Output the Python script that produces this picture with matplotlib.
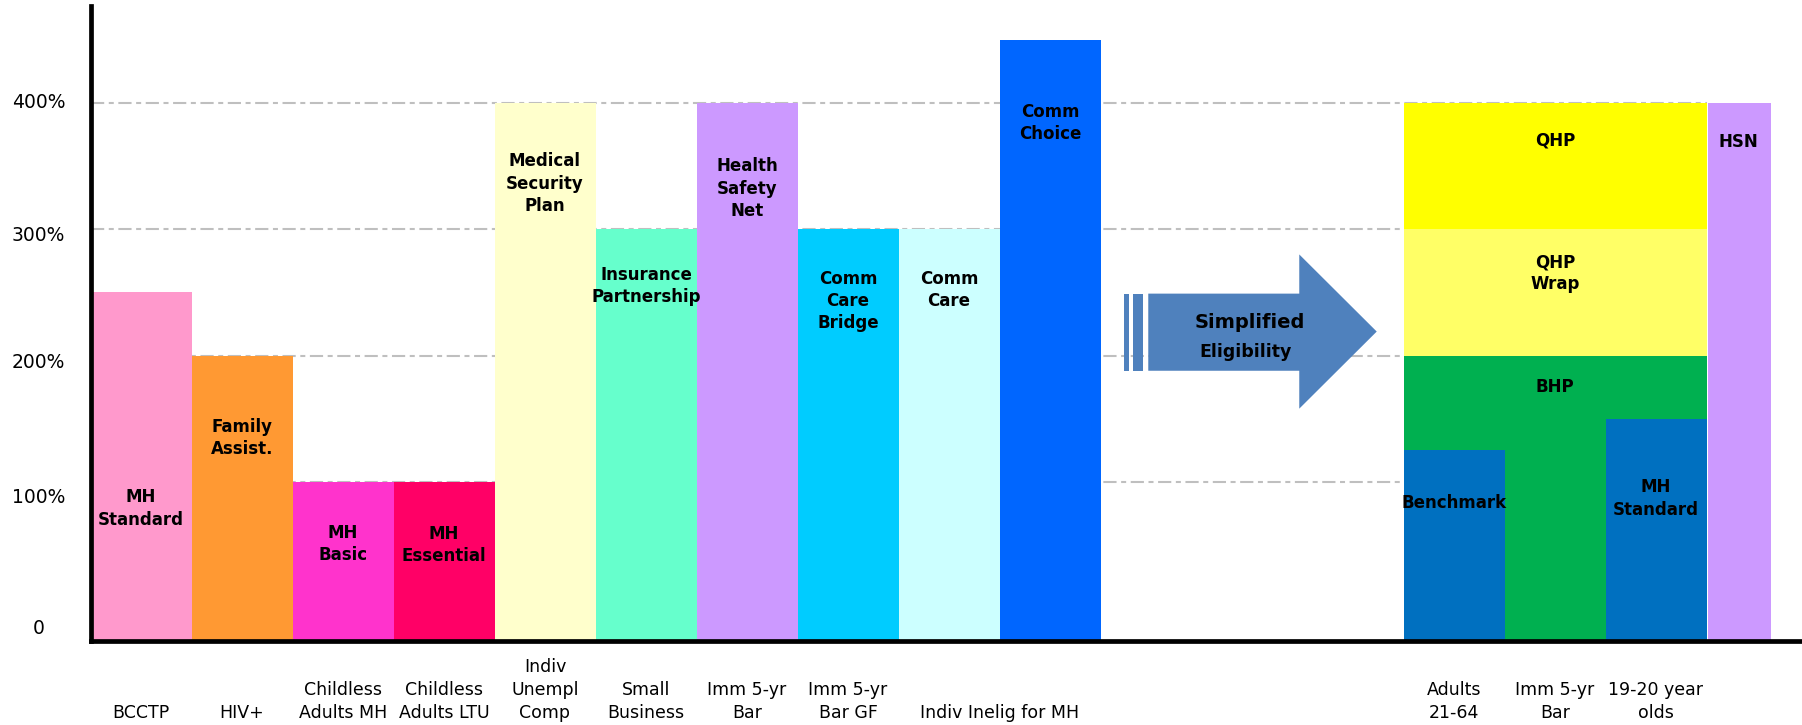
import matplotlib.pyplot as plt
from matplotlib.patches import Polygon, Rectangle
from matplotlib.transforms import ScaledTranslation

plt.rcParams['font.family'] = ['DejaVu Sans']
plt.rcParams['lines.scale_dashes'] = False

# current programs, one bar per population (upper eligibility limit, % FPL)
programs = ["MH\nStandard", "Family\nAssist.", "MH\nBasic", "MH\nEssential",
            "Medical\nSecurity\nPlan", "Insurance\nPartnership", "Health\nSafety\nNet",
            "Comm\nCare\nBridge", "Comm\nCare", "Comm\nChoice"]
limits = [250, 200, 100, 100, 400, 300, 400, 300, 300, 450]
label_y = [79, 135, 51, 50, 336, 255, 332, 243, 252, 384]
colors = ["#FF99CC", "#FF9933", "#FF33CC", "#FF0066", "#FFFFCC",
          "#66FFCC", "#CC99FF", "#00CCFF", "#CCFFFF", "#0066FF"]
populations = ["BCCTP", "HIV+", "Childless\nAdults MH", "Childless\nAdults LTU",
               "Indiv\nUnempl\nComp", "Small\nBusiness", "Imm 5-yr\nBar", "Imm 5-yr\nBar GF"]
shared_population = "Indiv Inelig for MH"   # under the last two bars

# after simplified eligibility
new_populations = ["Adults\n21-64", "Imm 5-yr\nBar", "19-20 year\nolds"]
tiers = ["BHP", "QHP\nWrap", "QHP"]
tier_limits = [200, 300, 400]
tier_label_y = [175, 265, 370]
tier_colors = ["#00B050", "#FFFF66", "#FFFF00"]
base_programs = ["Benchmark", None, "MH\nStandard"]
base_limits = [125, None, 150]
base_label_y = [83, None, 87]
hsn_limit = 400
hsn_label_y = 369

yticks = [0, 100, 200, 300, 400]
ytick_labels = ["0", "100%", "200%", "300%", "400%"]

FLOOR = -26     # bars start below the "0" line, as in the slide
TOP = 476.5
NEW_X = 13      # first column of the new layout
W, H = 1802, 725

fig = plt.figure(figsize=(W / 100, H / 100), dpi=100)
ax = fig.add_axes([90.5 / W, (H - 641.3) / H, (W - 90.5) / W, 635.3 / H])
ax.set_xlim(0, (W - 90.5) / 101)
ax.set_ylim(FLOOR, TOP)

for s in ['top', 'right']:
    ax.spines[s].set_visible(False)
for s in ['left', 'bottom']:
    ax.spines[s].set_linewidth(3.4)
    ax.spines[s].set_zorder(6)

# grid lines
ax.hlines(yticks[1:], 0, NEW_X + 3, colors='#BFBFBF', lw=1.5,
          linestyles=[(0, (9.5, 3.3, 3.6, 3.3))], zorder=1)

lab_kw = dict(ha='center', va='center', fontsize=12, fontweight='bold',
              linespacing=1.3, zorder=5)

# left side: current programs
xs = list(range(len(programs)))
ax.bar(xs, [l - FLOOR for l in limits], bottom=FLOOR, width=1, align='edge',
       color=colors, linewidth=0, zorder=2)
for x, name, y in zip(xs, programs, label_y):
    ax.text(x + 0.5, y, name, **lab_kw)

# right side: stacked tiers across three populations
bottom = FLOOR
for name, lim, c, y in zip(tiers, tier_limits, tier_colors, tier_label_y):
    ax.bar(NEW_X, lim - bottom, bottom=bottom, width=3, align='edge',
           color=c, linewidth=0, zorder=2)
    ax.text(NEW_X + 1.5, y, name, **lab_kw)
    bottom = lim
for i, (name, lim, y) in enumerate(zip(base_programs, base_limits, base_label_y)):
    if name is None:
        continue
    ax.bar(NEW_X + i, lim - FLOOR, bottom=FLOOR, width=1, align='edge',
           color='#0070C0', linewidth=0, zorder=3)
    ax.text(NEW_X + i + 0.5, y, name, **lab_kw)

ax.bar(NEW_X + 3.015, hsn_limit - FLOOR, bottom=FLOOR, width=0.62, align='edge',
       color='#CC99FF', linewidth=0, zorder=2)
ax.text(NEW_X + 3.32, hsn_label_y, "HSN", **lab_kw)

# population labels under the axis
cat_kw = dict(xycoords=ax.get_xaxis_transform(), xytext=(0, -57.8),
              textcoords='offset points', ha='center', va='bottom',
              fontsize=12.5, linespacing=1.33, annotation_clip=False)
for x, name in enumerate(populations):
    ax.annotate(name, xy=(x + 0.5, 0), **cat_kw)
ax.annotate(shared_population, xy=(len(populations) + 1, 0), **cat_kw)
for i, name in enumerate(new_populations):
    ax.annotate(name, xy=(NEW_X + i + 0.5, 0), **cat_kw)

# "Simplified Eligibility" block arrow
arrow_c = '#4F81BD'
ax.add_patch(Polygon([(10.473, 188), (11.968, 188), (11.968, 158), (12.735, 219),
                      (11.968, 280), (11.968, 249), (10.473, 249)],
                     closed=True, facecolor=arrow_c, edgecolor='none', zorder=3))
for x0, x1 in [(10.233, 10.279), (10.325, 10.424)]:
    ax.add_patch(Rectangle((x0, 188), x1 - x0, 61, facecolor=arrow_c,
                           edgecolor='none', zorder=3))
ax.text(11.478, 221.5, "Simplified", ha='center', va='baseline', fontsize=14,
        fontweight='bold', zorder=5)
ax.text(11.44, 199, "Eligibility", ha='center', va='baseline', fontsize=12.5,
        fontweight='bold', zorder=5)

# axis ticks
ax.set_xticks([])
ax.set_yticks(yticks, ytick_labels)
ax.tick_params(axis='y', length=0, pad=37.4, labelsize=13.5)
for lab, dy in zip(ax.get_yticklabels(), [18, 13, 4.6, 4, -2]):
    lab.set_ha('center')
    lab.set_transform(lab.get_transform() + ScaledTranslation(0, -dy / 100, fig.dpi_scale_trans))

fig.savefig('out.png', dpi=100)
